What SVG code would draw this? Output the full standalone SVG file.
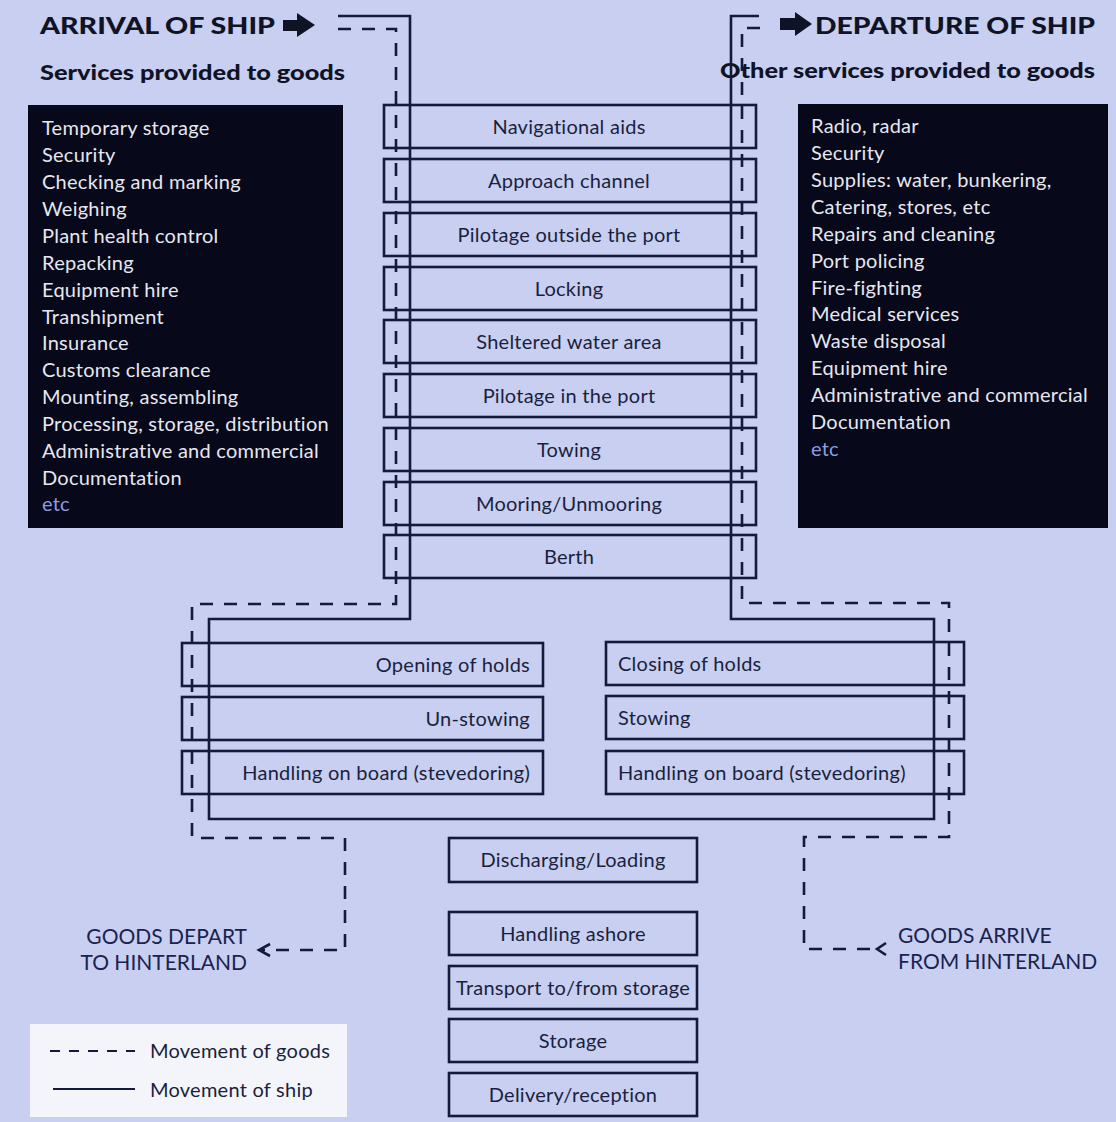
<svg xmlns="http://www.w3.org/2000/svg" width="1116" height="1122" viewBox="0 0 1116 1122">
<style>
.bg{fill:#c8cff0}
.box{fill:none;stroke:#141a3a;stroke-width:2.6}
.panel{fill:#07081a}
.t{font-family:Lato,"Open Sans","Liberation Sans",sans-serif;font-size:20px;letter-spacing:0.25px;fill:#1a1f3e}
.pt{font-family:Lato,"Open Sans","Liberation Sans",sans-serif;font-size:20px;letter-spacing:0.25px;fill:#e6e7ef}
.etc{fill:#8c9ee0}
.h1{font-family:Lato,"Open Sans","Liberation Sans",sans-serif;font-weight:900;font-size:23px;fill:#101325}
.h2{font-family:Lato,"Open Sans","Liberation Sans",sans-serif;font-weight:900;font-size:20px;fill:#101325}
.ship{fill:none;stroke:#141a3a;stroke-width:2.6}
.goods{fill:none;stroke:#141a3a;stroke-width:2.6;stroke-dasharray:13 11}
.hint{font-family:Lato,"Open Sans","Liberation Sans",sans-serif;font-size:21px;fill:#1a2250}
</style>
<rect class="bg" x="0" y="0" width="1116" height="1122"/>

<g id="header-arrival">
<text class="h1" x="40" y="34" textLength="235" lengthAdjust="spacingAndGlyphs">ARRIVAL OF SHIP</text>
<polygon points="283,20 297,20 297,13 315,25 297,37 297,31 283,31" fill="#101325"/>
<text class="h2" x="40" y="80" textLength="305" lengthAdjust="spacingAndGlyphs">Services provided to goods</text>
</g>
<g id="header-departure">
<polygon points="780,18 795,18 795,12 812,24 795,36 795,30 780,30" fill="#101325"/>
<text class="h1" x="815" y="34" textLength="280" lengthAdjust="spacingAndGlyphs">DEPARTURE OF SHIP</text>
<text class="h2" x="720" y="78" textLength="375" lengthAdjust="spacingAndGlyphs">Other services provided to goods</text>
</g>

<g id="panel-left">
<rect class="panel" x="28" y="105" width="315" height="423"/>
<text class="pt" x="42" y="135">Temporary storage</text>
<text class="pt" x="42" y="162">Security</text>
<text class="pt" x="42" y="189">Checking and marking</text>
<text class="pt" x="42" y="216">Weighing</text>
<text class="pt" x="42" y="243">Plant health control</text>
<text class="pt" x="42" y="270">Repacking</text>
<text class="pt" x="42" y="297">Equipment hire</text>
<text class="pt" x="42" y="324">Transhipment</text>
<text class="pt" x="42" y="350">Insurance</text>
<text class="pt" x="42" y="377">Customs clearance</text>
<text class="pt" x="42" y="404">Mounting, assembling</text>
<text class="pt" x="42" y="431">Processing, storage, distribution</text>
<text class="pt" x="42" y="458">Administrative and commercial</text>
<text class="pt" x="42" y="485">Documentation</text>
<text class="pt etc" x="42" y="511">etc</text>
</g>

<g id="panel-right">
<rect class="panel" x="798" y="104" width="310" height="424"/>
<text class="pt" x="811" y="133">Radio, radar</text>
<text class="pt" x="811" y="160">Security</text>
<text class="pt" x="811" y="187">Supplies: water, bunkering,</text>
<text class="pt" x="811" y="214">Catering, stores, etc</text>
<text class="pt" x="811" y="241">Repairs and cleaning</text>
<text class="pt" x="811" y="268">Port policing</text>
<text class="pt" x="811" y="295">Fire-fighting</text>
<text class="pt" x="811" y="321">Medical services</text>
<text class="pt" x="811" y="348">Waste disposal</text>
<text class="pt" x="811" y="375">Equipment hire</text>
<text class="pt" x="811" y="402">Administrative and commercial</text>
<text class="pt" x="811" y="429">Documentation</text>
<text class="pt etc" x="811" y="456">etc</text>
</g>

<g id="nav-aids"><rect class="box" x="384" y="105" width="372" height="43"/><text class="t" x="569" y="134" text-anchor="middle">Navigational aids</text></g>
<g id="approach"><rect class="box" x="384" y="159" width="372" height="43"/><text class="t" x="569" y="188" text-anchor="middle">Approach channel</text></g>
<g id="pilot-out"><rect class="box" x="384" y="213" width="372" height="43"/><text class="t" x="569" y="242" text-anchor="middle">Pilotage outside the port</text></g>
<g id="locking"><rect class="box" x="384" y="267" width="372" height="43"/><text class="t" x="569" y="296" text-anchor="middle">Locking</text></g>
<g id="sheltered"><rect class="box" x="384" y="320" width="372" height="43"/><text class="t" x="569" y="349" text-anchor="middle">Sheltered water area</text></g>
<g id="pilot-in"><rect class="box" x="384" y="374" width="372" height="43"/><text class="t" x="569" y="403" text-anchor="middle">Pilotage in the port</text></g>
<g id="towing"><rect class="box" x="384" y="428" width="372" height="43"/><text class="t" x="569" y="457" text-anchor="middle">Towing</text></g>
<g id="mooring"><rect class="box" x="384" y="482" width="372" height="43"/><text class="t" x="569" y="511" text-anchor="middle">Mooring/Unmooring</text></g>
<g id="berth"><rect class="box" x="384" y="535" width="372" height="43"/><text class="t" x="569" y="564" text-anchor="middle">Berth</text></g>

<g id="opening"><rect class="box" x="182" y="643" width="361" height="43"/><text class="t" x="530" y="672" text-anchor="end">Opening of holds</text></g>
<g id="unstowing"><rect class="box" x="182" y="697" width="361" height="43"/><text class="t" x="530" y="726" text-anchor="end">Un-stowing</text></g>
<g id="handling-l"><rect class="box" x="182" y="751" width="361" height="43"/><text class="t" x="530" y="780" text-anchor="end">Handling on board (stevedoring)</text></g>

<g id="closing"><rect class="box" x="606" y="642" width="358" height="43"/><text class="t" x="618" y="671">Closing of holds</text></g>
<g id="stowing"><rect class="box" x="606" y="696" width="358" height="43"/><text class="t" x="618" y="725">Stowing</text></g>
<g id="handling-r"><rect class="box" x="606" y="751" width="358" height="43"/><text class="t" x="618" y="780">Handling on board (stevedoring)</text></g>

<g id="discharging"><rect class="box" x="449" y="838" width="248" height="44"/><text class="t" x="573" y="867" text-anchor="middle">Discharging/Loading</text></g>
<g id="handling-ashore"><rect class="box" x="449" y="912" width="248" height="43"/><text class="t" x="573" y="941" text-anchor="middle">Handling ashore</text></g>
<g id="transport"><rect class="box" x="449" y="966" width="248" height="43"/><text class="t" x="573" y="995" text-anchor="middle">Transport to/from storage</text></g>
<g id="storage"><rect class="box" x="449" y="1019" width="248" height="43"/><text class="t" x="573" y="1048" text-anchor="middle">Storage</text></g>
<g id="delivery"><rect class="box" x="449" y="1073" width="248" height="43"/><text class="t" x="573" y="1102" text-anchor="middle">Delivery/reception</text></g>

<g id="goods-depart"><text class="hint" x="247" y="944" text-anchor="end">GOODS DEPART</text><text class="hint" x="247" y="970" text-anchor="end">TO HINTERLAND</text></g>
<g id="goods-arrive"><text class="hint" x="898" y="943">GOODS ARRIVE</text><text class="hint" x="898" y="969">FROM HINTERLAND</text></g>

<g id="connectors">
<path class="ship" d="M338,16 H410 V619 H209 V819 H934 V619 H731 V16 H759"/>
<path class="goods" d="M338,29 H396 V604 H192 V838 H345 V950 H262"/>
<path class="ship" d="M270,944 L259,950 L270,956"/>
<path class="goods" d="M760,28 H742 V603 H949 V837 H804 V949 H878"/>
<path class="ship" d="M886,943 L877,949 L886,955"/>
</g>

<g id="legend">
<rect x="30" y="1024" width="317" height="93" fill="#f4f5fb"/>
<line x1="50" y1="1051" x2="135" y2="1051" stroke="#141a3a" stroke-width="2.2" stroke-dasharray="10 9"/>
<text class="t" x="150" y="1058">Movement of goods</text>
<line x1="53" y1="1089" x2="135" y2="1089" stroke="#141a3a" stroke-width="2.2"/>
<text class="t" x="150" y="1097">Movement of ship</text>
</g>
</svg>
